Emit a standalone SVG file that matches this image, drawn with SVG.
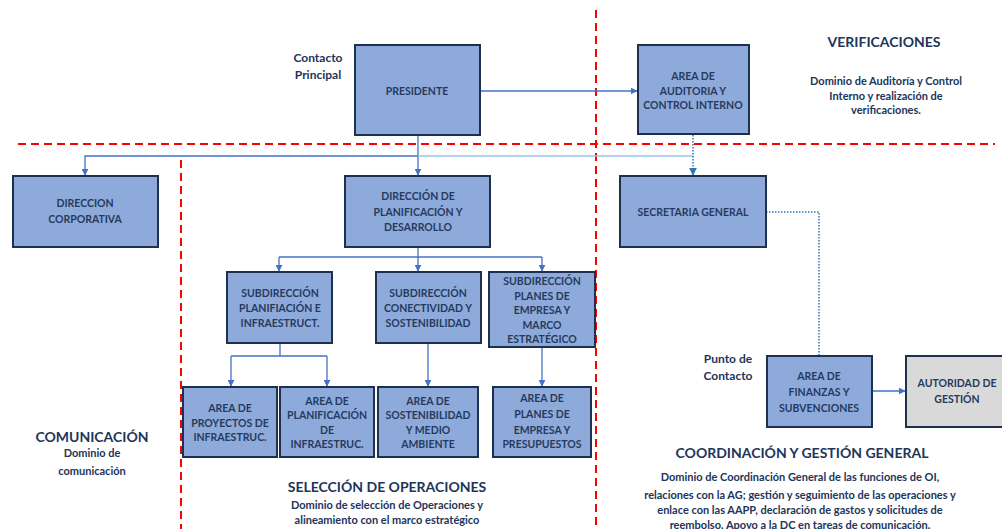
<svg xmlns="http://www.w3.org/2000/svg" width="1002" height="529" viewBox="0 0 1002 529">
<style>
.box{fill:#8eaadb;stroke:#1f2f4f;stroke-width:2}
.gray{fill:#d9d9d9;stroke:#1f2f4f;stroke-width:2}
.bt{font-family:Lato,"Liberation Sans",sans-serif;font-weight:bold;font-size:10.5px;fill:#263a5e;text-anchor:middle}
.lbl{font-family:Lato,"Liberation Sans",sans-serif;font-weight:bold;fill:#22345a;text-anchor:middle}
.red{stroke:#ff0000;stroke-width:2;stroke-dasharray:8,5;fill:none}
.c{stroke:#4472c4;stroke-width:1.3;fill:none}
.cl{stroke:#9dc3e6;stroke-width:1.5;fill:none}
.dot{stroke:#2e75b6;stroke-width:1.5;stroke-dasharray:1.5,1.5;fill:none}
</style>
<defs>
<marker id="ar" viewBox="0 0 10 10" refX="9" refY="5" markerWidth="7" markerHeight="7" orient="auto" markerUnits="userSpaceOnUse"><path d="M0,0 L10,5 L0,10 z" fill="#4472c4"/></marker>
<marker id="ar2" viewBox="0 0 10 10" refX="9" refY="5" markerWidth="8" markerHeight="8" orient="auto" markerUnits="userSpaceOnUse"><path d="M0,0 L10,5 L0,10 z" fill="#2e75b6"/></marker>
</defs>
<rect width="1002" height="529" fill="#ffffff"/>
<g id="dividers">
<line class="red" x1="596" y1="10" x2="596" y2="529"/>
<line class="red" x1="18" y1="144" x2="995" y2="144"/>
<line class="red" x1="181" y1="160" x2="181" y2="529"/>
</g>
<g id="connectors">
<line class="c" x1="480" y1="91" x2="637" y2="91" marker-end="url(#ar)"/>
<line class="c" x1="418" y1="135" x2="418" y2="175" marker-end="url(#ar)"/>
<polyline class="c" points="418,156 85,156 85,175" marker-end="url(#ar)"/>
<line class="cl" x1="418" y1="156" x2="693" y2="156"/>
<line class="dot" x1="693" y1="135" x2="693" y2="175" marker-end="url(#ar2)"/>
<polyline class="dot" points="766,212 819,212 819,356"/>
<line class="c" x1="418" y1="247" x2="418" y2="257"/>
<line class="c" x1="279" y1="257" x2="542" y2="257"/>
<line class="c" x1="279" y1="257" x2="279" y2="271" marker-end="url(#ar)"/>
<line class="c" x1="418" y1="257" x2="418" y2="271" marker-end="url(#ar)"/>
<line class="c" x1="542" y1="257" x2="542" y2="271" marker-end="url(#ar)"/>
<line class="c" x1="280" y1="343" x2="280" y2="356"/>
<line class="c" x1="231" y1="356" x2="327" y2="356"/>
<line class="c" x1="231" y1="356" x2="231" y2="386" marker-end="url(#ar)"/>
<line class="c" x1="327" y1="356" x2="327" y2="386" marker-end="url(#ar)"/>
<line class="c" x1="428" y1="343" x2="428" y2="386" marker-end="url(#ar)"/>
<line class="c" x1="542" y1="347" x2="542" y2="386" marker-end="url(#ar)"/>
<line class="c" x1="872" y1="391" x2="905" y2="391" marker-end="url(#ar)"/>
</g>
<g id="presidente"><rect class="box" x="355" y="45" width="125" height="90"/><text class="bt" x="417" y="95">PRESIDENTE</text></g>
<g id="auditoria"><rect class="box" x="638" y="45" width="111" height="89"/><text class="bt" x="693" y="80">AREA DE</text><text class="bt" x="693" y="95">AUDITORIA Y</text><text class="bt" x="693" y="109">CONTROL INTERNO</text></g>
<g id="dir-corporativa"><rect class="box" x="13" y="176" width="145" height="71"/><text class="bt" x="85" y="207">DIRECCION</text><text class="bt" x="85" y="223">CORPORATIVA</text></g>
<g id="dir-planificacion"><rect class="box" x="345" y="176" width="145" height="71"/><text class="bt" x="418" y="200">DIRECCIÓN DE</text><text class="bt" x="418" y="216">PLANIFICACIÓN Y</text><text class="bt" x="418" y="231">DESARROLLO</text></g>
<g id="secretaria"><rect class="box" x="620" y="176" width="146" height="71"/><text class="bt" x="693" y="216">SECRETARIA GENERAL</text></g>
<g id="sub-infra"><rect class="box" x="227" y="272" width="105" height="71"/><text class="bt" x="280" y="297">SUBDIRECCIÓN</text><text class="bt" x="280" y="312">PLANIFIACIÓN E</text><text class="bt" x="280" y="327">INFRAESTRUCT.</text></g>
<g id="sub-conectividad"><rect class="box" x="376" y="272" width="105" height="71"/><text class="bt" x="428" y="297">SUBDIRECCIÓN</text><text class="bt" x="428" y="312">CONECTIVIDAD Y</text><text class="bt" x="428" y="327">SOSTENIBILIDAD</text></g>
<g id="sub-planes"><rect class="box" x="489" y="272" width="106" height="75"/><text class="bt" x="542" y="285">SUBDIRECCIÓN</text><text class="bt" x="542" y="300">PLANES DE</text><text class="bt" x="542" y="314">EMPRESA Y</text><text class="bt" x="542" y="329">MARCO</text><text class="bt" x="542" y="343">ESTRATÉGICO</text></g>
<g id="area-proyectos"><rect class="box" x="183" y="387" width="94" height="70"/><text class="bt" x="230" y="412">AREA DE</text><text class="bt" x="230" y="427">PROYECTOS DE</text><text class="bt" x="230" y="441">INFRAESTRUC.</text></g>
<g id="area-planificacion"><rect class="box" x="280" y="387" width="94" height="70"/><text class="bt" x="327" y="405">AREA DE</text><text class="bt" x="327" y="419">PLANIFICACIÓN</text><text class="bt" x="327" y="434">DE</text><text class="bt" x="327" y="448">INFRAESTRUC.</text></g>
<g id="area-sostenibilidad"><rect class="box" x="378" y="387" width="100" height="70"/><text class="bt" x="428" y="405">AREA DE</text><text class="bt" x="428" y="419">SOSTENIBILIDAD</text><text class="bt" x="428" y="434">Y MEDIO</text><text class="bt" x="428" y="448">AMBIENTE</text></g>
<g id="area-planes"><rect class="box" x="493" y="387" width="98" height="70"/><text class="bt" x="542" y="402">AREA DE</text><text class="bt" x="542" y="418">PLANES DE</text><text class="bt" x="542" y="434">EMPRESA Y</text><text class="bt" x="542" y="448">PRESUPUESTOS</text></g>
<g id="area-finanzas"><rect class="box" x="767" y="356" width="105" height="71"/><text class="bt" x="819" y="380">AREA DE</text><text class="bt" x="819" y="396">FINANZAS Y</text><text class="bt" x="819" y="412">SUBVENCIONES</text></g>
<g id="autoridad"><rect class="gray" x="906" y="356" width="106" height="71"/><text class="bt" x="957" y="387">AUTORIDAD DE</text><text class="bt" x="957" y="403">GESTIÓN</text></g>
<g id="labels">
<text class="lbl" x="318" y="62" font-size="12">Contacto</text>
<text class="lbl" x="318" y="79" font-size="12">Principal</text>
<text class="lbl" x="728" y="363" font-size="12">Punto de</text>
<text class="lbl" x="728" y="380" font-size="12">Contacto</text>
<text class="lbl" x="884" y="47" font-size="14">VERIFICACIONES</text>
<text class="lbl" x="886" y="85" font-size="11">Dominio de Auditoría y Control</text>
<text class="lbl" x="886" y="100" font-size="11">Interno y realización de</text>
<text class="lbl" x="886" y="114" font-size="11">verificaciones.</text>
<text class="lbl" x="92" y="442" font-size="14">COMUNICACIÓN</text>
<text class="lbl" x="92" y="457" font-size="11">Dominio de</text>
<text class="lbl" x="92" y="475" font-size="11">comunicación</text>
<text class="lbl" x="387" y="492" font-size="14">SELECCIÓN DE OPERACIONES</text>
<text class="lbl" x="387" y="509" font-size="11">Dominio de selección de Operaciones y</text>
<text class="lbl" x="387" y="524" font-size="11">alineamiento con el marco estratégico</text>
<text class="lbl" x="802" y="458" font-size="14">COORDINACIÓN Y GESTIÓN GENERAL</text>
<text class="lbl" x="800" y="481" font-size="11">Dominio de Coordinación General de las funciones de OI,</text>
<text class="lbl" x="800" y="499" font-size="11">relaciones con la AG; gestión y seguimiento de las operaciones y</text>
<text class="lbl" x="800" y="514" font-size="11">enlace con las AAPP, declaración de gastos y solicitudes de</text>
<text class="lbl" x="800" y="529" font-size="11">reembolso. Apoyo a la DC en tareas de comunicación.</text>
</g>
</svg>
